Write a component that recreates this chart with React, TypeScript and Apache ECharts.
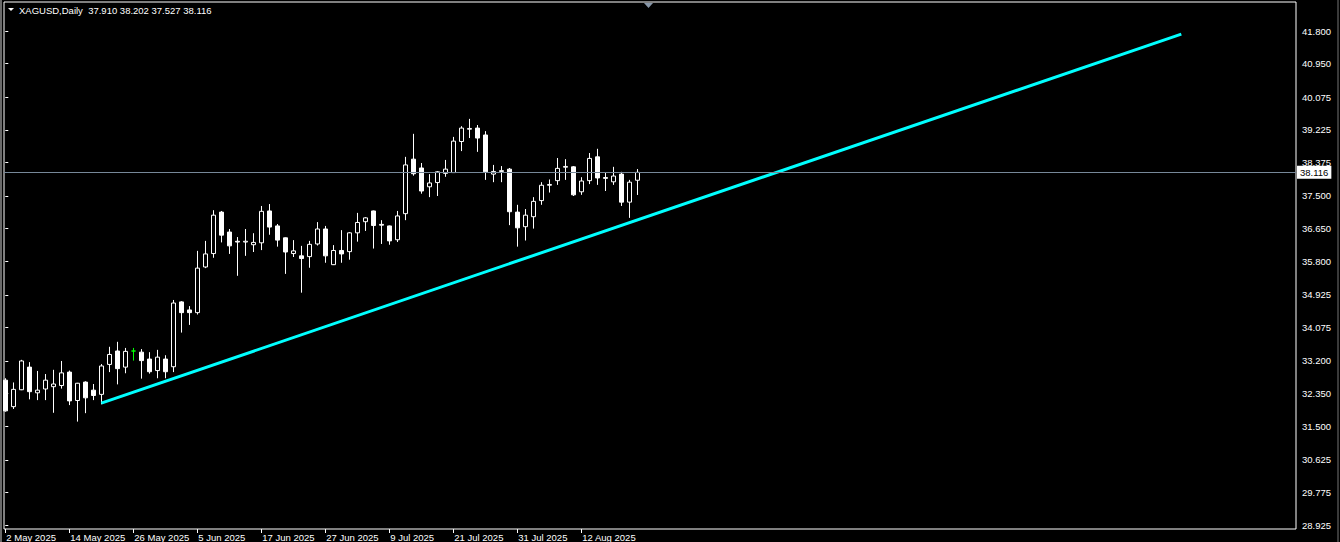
import React, { useEffect, useRef } from "react";
import * as echarts from "echarts";

// ---- data ----
const SYMBOL = "XAGUSD,Daily";

const DATES = [
  "2 May 2025", "5 May 2025", "6 May 2025", "7 May 2025", "8 May 2025", "9 May 2025", "12 May 2025", "13 May 2025",
  "14 May 2025", "15 May 2025", "16 May 2025", "19 May 2025", "20 May 2025", "21 May 2025", "22 May 2025", "23 May 2025",
  "26 May 2025", "27 May 2025", "28 May 2025", "29 May 2025", "30 May 2025", "2 Jun 2025", "3 Jun 2025", "4 Jun 2025",
  "5 Jun 2025", "6 Jun 2025", "9 Jun 2025", "10 Jun 2025", "11 Jun 2025", "12 Jun 2025", "13 Jun 2025", "16 Jun 2025",
  "17 Jun 2025", "18 Jun 2025", "19 Jun 2025", "20 Jun 2025", "23 Jun 2025", "24 Jun 2025", "25 Jun 2025", "26 Jun 2025",
  "27 Jun 2025", "30 Jun 2025", "1 Jul 2025", "2 Jul 2025", "3 Jul 2025", "4 Jul 2025", "7 Jul 2025", "8 Jul 2025",
  "9 Jul 2025", "10 Jul 2025", "11 Jul 2025", "14 Jul 2025", "15 Jul 2025", "16 Jul 2025", "17 Jul 2025", "18 Jul 2025",
  "21 Jul 2025", "22 Jul 2025", "23 Jul 2025", "24 Jul 2025", "25 Jul 2025", "28 Jul 2025", "29 Jul 2025", "30 Jul 2025",
  "31 Jul 2025", "1 Aug 2025", "4 Aug 2025", "5 Aug 2025", "6 Aug 2025", "7 Aug 2025", "8 Aug 2025", "11 Aug 2025",
  "12 Aug 2025", "13 Aug 2025", "14 Aug 2025", "15 Aug 2025", "18 Aug 2025", "19 Aug 2025", "20 Aug 2025", "21 Aug 2025",
];

const OPEN = [
  32.70, 32.01, 32.45, 33.04, 32.37, 32.47, 32.53, 32.56, 32.91, 32.17,
  32.65, 32.44, 32.33, 33.11, 33.46, 33.04, 33.46, 33.43, 33.25, 32.95,
  33.25, 33.05, 34.74, 34.53, 34.46, 35.65, 36.00, 37.08, 36.56, 36.32,
  36.30, 36.23, 36.28, 37.11, 36.72, 36.41, 36.00, 35.94, 35.92, 36.25,
  36.64, 35.71, 36.08, 36.05, 36.54, 36.83, 37.11, 36.76, 36.72, 36.36,
  37.04, 38.46, 38.23, 37.74, 37.85, 38.09, 38.11, 38.92, 39.24, 39.27,
  39.09, 38.07, 38.14, 38.20, 37.08, 36.70, 36.96, 37.38, 37.78, 37.90,
  38.25, 38.26, 37.61, 37.90, 38.52, 37.98, 37.87, 38.07, 37.34, 37.910,
];
const HIGH = [
  32.75, 32.64, 33.23, 33.17, 32.94, 32.86, 32.97, 33.20, 32.95, 32.63,
  32.67, 32.60, 33.12, 33.57, 33.70, 33.54, 33.54, 33.51, 33.43, 33.49,
  33.35, 34.79, 34.76, 34.63, 36.07, 36.33, 37.13, 37.11, 36.64, 36.43,
  36.64, 36.53, 37.24, 37.29, 36.77, 36.42, 36.35, 36.20, 36.33, 36.82,
  36.72, 36.22, 36.61, 36.56, 37.06, 36.95, 37.12, 36.87, 36.73, 37.11,
  38.52, 39.12, 38.36, 38.07, 38.15, 38.44, 39.04, 39.32, 39.51, 39.35,
  39.19, 38.31, 38.28, 38.23, 37.27, 37.16, 37.47, 37.86, 37.93, 38.49,
  38.46, 38.28, 37.99, 38.62, 38.73, 38.10, 38.26, 38.13, 37.92, 38.202,
];
const LOW = [
  31.88, 31.95, 32.44, 32.20, 32.18, 32.18, 31.85, 32.48, 32.05, 31.62,
  31.84, 32.18, 32.07, 32.91, 32.59, 32.88, 33.21, 32.74, 32.87, 32.75,
  32.75, 32.91, 33.94, 34.14, 34.41, 35.62, 35.89, 36.29, 35.99, 35.42,
  35.94, 36.04, 36.09, 36.49, 36.18, 35.47, 35.91, 34.98, 35.63, 36.21,
  35.76, 35.70, 35.76, 35.84, 36.31, 36.59, 36.13, 36.25, 36.23, 36.30,
  36.87, 38.03, 37.56, 37.47, 37.50, 38.00, 38.10, 38.67, 39.01, 38.65,
  37.92, 37.86, 37.86, 36.74, 36.18, 36.34, 36.65, 37.27, 37.59, 37.79,
  37.92, 37.50, 37.53, 37.81, 37.79, 37.63, 37.79, 37.24, 36.93, 37.527,
];
const CLOSE = [
  31.90, 32.46, 33.20, 32.40, 32.44, 32.70, 32.60, 32.89, 32.16, 32.62,
  32.24, 32.30, 33.07, 33.37, 33.00, 33.45, 33.46, 33.21, 32.92, 33.30,
  32.92, 34.71, 34.46, 34.46, 35.62, 35.99, 37.00, 36.48, 36.20, 36.30,
  36.32, 36.29, 37.10, 36.69, 36.35, 36.04, 36.07, 35.87, 36.24, 36.64,
  35.94, 36.08, 35.99, 36.54, 36.81, 36.93, 36.73, 36.74, 36.33, 36.98,
  38.31, 38.08, 37.63, 37.84, 38.13, 38.20, 38.93, 39.27, 39.26, 39.01,
  38.13, 38.14, 38.16, 37.09, 36.67, 37.00, 37.36, 37.78, 37.80, 38.22,
  38.27, 37.53, 37.89, 38.48, 37.97, 37.96, 38.02, 37.34, 37.86, 38.116,
];

const Y_TICKS = [
  41.8, 40.95, 40.075, 39.225, 38.375, 37.5, 36.65, 35.8,
  34.925, 34.075, 33.2, 32.35, 31.5, 30.625, 29.775, 28.925,
];

// trend line anchors: bar index and price
const TREND_BARS = [12, 147];
const TREND_PRICES = [32.1, 41.72];

const LAST_PRICE = 38.116;

// visible window (bars / price)
const X_MIN = -0.1625;
const X_MAX = 161.3375;
const Y_MIN = 28.821;
const Y_MAX = 42.556;
const LABEL_EVERY = 8;

const FONT = "'Liberation Sans', Arial, sans-serif";
const FS = 9.5;

export default function App() {
  const ref = useRef<HTMLDivElement>(null);

  useEffect(() => {
    document.body.style.margin = "0";
    document.body.style.background = "#000";
    const chart = echarts.init(ref.current!, null, { renderer: "svg" });

    const labelIdx = DATES.map((_, i) => i).filter((i) => i % LABEL_EVERY === 0);
    const candles = DATES.map((_, i) => [i, OPEN[i], CLOSE[i], LOW[i], HIGH[i]]);
    const trend = TREND_BARS.map((b, i) => [b, TREND_PRICES[i]]);
    const n = OPEN.length - 1;
    const title =
      SYMBOL + "  " + [OPEN[n], HIGH[n], LOW[n], CLOSE[n]].map((v) => v.toFixed(3)).join(" ");

    chart.setOption({
      animation: false,
      backgroundColor: "#000",
      textStyle: { fontFamily: FONT },
      grid: {
        left: 4,
        top: 2,
        right: 44,
        bottom: 13,
        show: true,
        borderColor: "#ffffff",
        borderWidth: 1,
        backgroundColor: "#000",
      },
      xAxis: {
        type: "value",
        min: X_MIN,
        max: X_MAX,
        axisLine: { show: false },
        splitLine: { show: false },
        axisTick: {
          show: true,
          customValues: labelIdx,
          length: 4,
          lineStyle: { color: "#ffffff", width: 1 },
        },
        axisLabel: {
          customValues: labelIdx,
          formatter: (v: number) => DATES[Math.round(v)] ?? "",
          color: "#ffffff",
          fontSize: FS,
          fontFamily: FONT,
          align: "left",
          margin: 3,
          padding: [0, 0, 0, 1],
        },
      },
      yAxis: {
        type: "value",
        position: "right",
        min: Y_MIN,
        max: Y_MAX,
        axisLine: { show: false },
        splitLine: { show: false },
        axisTick: {
          show: true,
          customValues: Y_TICKS,
          length: 3,
          lineStyle: { color: "#ffffff", width: 1 },
        },
        axisLabel: {
          customValues: Y_TICKS,
          formatter: (v: number) => v.toFixed(3),
          color: "#ffffff",
          fontSize: FS,
          fontFamily: FONT,
          margin: 6,
        },
      },
      series: [
        {
          type: "candlestick",
          data: candles,
          barWidth: 4,
          clip: true,
          silent: true,
          itemStyle: {
            color: "#000000",
            color0: "#ffffff",
            borderColor: "#ffffff",
            borderColor0: "#ffffff",
            borderColorDoji: "#00ff00",
            borderWidth: 1,
          },
          markLine: {
            silent: true,
            symbol: ["none", "none"],
            animation: false,
            lineStyle: { color: "#778899", type: "solid", width: 1 },
            label: {
              show: true,
              position: "end",
              formatter: LAST_PRICE.toFixed(3),
              color: "#000000",
              backgroundColor: "#ffffff",
              padding: [2, 3, 1, 3],
              fontSize: FS,
              fontFamily: FONT,
              distance: 1,
            },
            emphasis: { disabled: true },
            data: [{ yAxis: LAST_PRICE }],
          },
          z: 3,
        },
        {
          type: "line",
          data: trend,
          symbol: "none",
          silent: true,
          lineStyle: { color: "#00ffff", width: 3 },
          z: 4,
        },
      ],
      graphic: [
        { type: "rect", shape: { x: 0, y: 0, width: 2, height: 542 }, style: { fill: "#6a6a6a" }, silent: true },
        { type: "rect", shape: { x: 1337, y: 0, width: 2, height: 542 }, style: { fill: "#3a3a3a" }, silent: true },
        {
          type: "polygon",
          shape: { points: [[8, 8], [14, 8], [11, 11]] },
          style: { fill: "#ffffff" },
          silent: true,
        },
        {
          type: "text",
          x: 19,
          y: 5,
          style: { text: title, fill: "#ffffff", font: FS + "px " + FONT },
          silent: true,
        },
        {
          type: "polygon",
          shape: { points: [[644, 3], [653, 3], [648.5, 8]] },
          style: { fill: "#8796a8" },
          silent: true,
        },
      ],
    });

    return () => chart.dispose();
  }, []);

  return (
    <div
      ref={ref}
      style={{ position: "absolute", left: 0, top: 0, width: 1340, height: 542, background: "#000" }}
    />
  );
}
